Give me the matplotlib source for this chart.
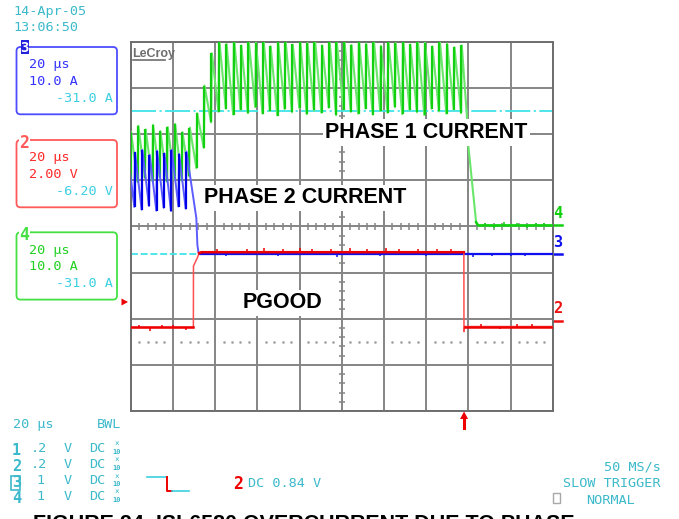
import numpy as np
import matplotlib
matplotlib.use("Agg")
import matplotlib.pyplot as plt
from matplotlib.patches import FancyBboxPatch, Rectangle, Polygon

plt.rcParams['lines.scale_dashes'] = False

W, H = 679, 519
MONO = 'DejaVu Sans Mono'
SANS = 'Liberation Sans'

# screen: 10 div x 20 us, 8 div vertical; traces stored in divisions
screen_us = 200
period_us = 3.484       # switching period, both phases
rise_us = 0.35          # inductor current up-slope time
trigger_us = 158.0

# CH4 - phase 1 current
ph1_first_peak_us = 0.14
ph1_peak = [2.05, 2.18, 2.10, 2.20, 2.06, 2.15, 2.22, 2.04, 2.14,
            2.45, 3.05, 3.75,
            4.05, 3.95, 4.10, 3.92, 4.05, 3.98, 4.10, 3.90, 4.02, 4.08,
            3.94, 4.05, 3.97, 4.10, 3.92, 4.04, 3.99, 4.08, 3.93, 4.05,
            3.96, 4.10, 3.91, 4.03, 3.97, 4.08, 3.94, 4.06, 3.98, 3.90,
            4.04, 3.96, 3.88, 3.92]
ph1_valley = [1.00, 0.96, 1.04, 0.98, 1.06, 0.97, 1.02, 0.99, 1.08,
              1.26, 1.70, 2.25,
              2.48, 2.55, 2.42, 2.52, 2.45, 2.58, 2.44, 2.50, 2.40, 2.54,
              2.47, 2.56, 2.43, 2.51, 2.46, 2.57, 2.41, 2.53, 2.48, 2.44,
              2.55, 2.42, 2.50, 2.46, 2.58, 2.43, 2.52, 2.47, 2.41, 2.55,
              2.49, 2.44, 2.53, 2.45]
ph1_tail_us = [159.3, 159.9, 163.7, 164.6, 200.0]
ph1_tail_div = [2.41, 1.80, 0.09, 0.02, 0.02]
ph1_glitch_us = [168, 172, 177, 183, 188, 192, 196]
ph1_glitch_div = [0.06, -0.05, 0.07, 0.05, -0.06, 0.06, 0.05]

# CH3 - phase 2 current
ph2_first_peak_us = -1.44
ph2_peak = [1.62, 1.60, 1.66, 1.55, 1.64, 1.58, 1.66, 1.57, 1.62]
ph2_valley = [0.40, 0.42, 0.36, 0.44, 0.34, 0.40, 0.33, 0.43, 0.38]
ph2_tail_us = [31.1, 31.6, 32.1, 33.0, 200.0]
ph2_tail_div = [0.18, -0.40, -0.56, -0.60, -0.60]
ph2_glitch_us = [45, 70, 98, 118, 140, 162, 171, 180, 187]
ph2_glitch_div = [-0.05, -0.04, -0.06, -0.05, -0.04, -0.06, -0.05, -0.04, -0.05]

# CH2 - PGOOD
pgood_us = [0.0, 29.7, 29.75, 31.6, 32.4, 33.5, 157.9, 157.95, 158.3, 200.0]
pgood_div = [-2.19, -2.19, -0.86, -0.68, -0.58, -0.56, -0.56, -2.28, -2.17, -2.17]
pgood_glitch_us = [4, 9, 15, 20, 26, 41, 55, 63, 72, 80, 86, 95, 104, 112,
                   121, 127, 136, 145, 152, 166, 175, 183, 190]
pgood_glitch_div = [0.06, -0.07, 0.05, 0.06, -0.05, 0.08, 0.07, 0.10, 0.06,
                    0.09, 0.07, 0.08, 0.10, 0.06, 0.09, 0.07, 0.08, 0.06,
                    0.07, 0.05, -0.05, 0.06, 0.05]

# reference / ground markers
ref_upper_div = 2.5
ref_lower_div = -0.6
dotted_div = -2.5
marker_levels = {'4': (0.03, '#10d010'), '3': (-0.60, '#1010ee'), '2': (-2.04, '#ee1010')}


def ripple(first_peak, peaks, valleys):
    t, v = [], []
    for k, (pk, vl) in enumerate(zip(peaks, valleys)):
        tp = first_peak + k * period_us
        t += [tp - rise_us, tp]
        v += [vl, pk]
    return t, v


fig = plt.figure(figsize=(W / 100, H / 100), dpi=100)
fig.patch.set_facecolor('white')

ax_l, ax_t, ax_r, ax_b = 130.7, 41.7, 552.7, 411.0
ax = fig.add_axes([ax_l / W, 1 - ax_b / H, (ax_r - ax_l) / W, (ax_b - ax_t) / H])
ax.set_xlim(0, screen_us)
ax.set_ylim(-4, 4)
ax.set_xticks(np.arange(0, screen_us + 1, 20))
ax.set_yticks(np.arange(-4, 5, 1))
ax.tick_params(length=0, labelbottom=False, labelleft=False)
ax.grid(True, color='#858585', lw=1.4)
ax.set_axisbelow(True)
for s in ax.spines.values():
    s.set_color('#6e6e6e')
    s.set_linewidth(1.4)

# centre cross graticule ticks
grey = '#858585'
minor_x = np.arange(0, screen_us + 0.1, 4)
minor_y = np.arange(-4, 4.01, 0.2)
ax.vlines(minor_x, -0.075, 0.075, color=grey, lw=1.1, zorder=1)
ax.hlines(minor_y, 100 - 1.5, 100 + 1.5, color=grey, lw=1.1, zorder=1)
dots = minor_x[(minor_x % 20) != 0]
ax.plot(dots, np.full(len(dots), dotted_div), ls='none', marker='s', ms=0.8,
        color='#a0a0a0', zorder=1)

# reference levels
ax.axhline(ref_upper_div, color='#40e4e8', lw=1.3, dashes=(18, 2.5, 1.5, 2.5), zorder=2)
ax.axhline(ref_lower_div, color='#40e4e8', lw=1.3, dashes=(5, 2), zorder=2)

# phase 1 current (green)
t1, v1 = ripple(ph1_first_peak_us, ph1_peak, ph1_valley)
ax.plot(t1 + ph1_tail_us, v1 + ph1_tail_div, color='#6ae66a', lw=1.5, zorder=3)
tp1 = ph1_first_peak_us + np.arange(len(ph1_peak)) * period_us - rise_us / 2
ax.vlines(tp1, ph1_valley, ph1_peak, color='#10d010', lw=1.6, zorder=3)
ax.plot(ph1_tail_us[2:], ph1_tail_div[2:], color='#10d010', lw=1.8, zorder=3)
ax.vlines(ph1_glitch_us, 0.02, 0.02 + np.array(ph1_glitch_div), color='#10d010', lw=1.1, zorder=3)

# phase 2 current (blue)
t2, v2 = ripple(ph2_first_peak_us, ph2_peak, ph2_valley)
ax.plot(t2 + ph2_tail_us, v2 + ph2_tail_div, color='#5c5cff', lw=1.4, zorder=4)
tp2 = ph2_first_peak_us + np.arange(len(ph2_peak)) * period_us - rise_us / 2
ax.vlines(tp2, ph2_valley, ph2_peak, color='#0000e6', lw=1.6, zorder=4)
ax.plot(ph2_tail_us[3:], ph2_tail_div[3:], color='#1010ee', lw=1.6, zorder=4)
ax.vlines(ph2_glitch_us, -0.60, -0.60 + np.array(ph2_glitch_div), color='#1010ee', lw=1.1, zorder=4)

# PGOOD (red)
ax.plot(pgood_us, pgood_div, color='#ff5050', lw=1.1, zorder=5)
ax.plot(pgood_us[:2], pgood_div[:2], color='#ee0000', lw=1.8, zorder=5)
ax.plot(pgood_us[4:7], pgood_div[4:7], color='#ee0000', lw=1.8, zorder=5)
ax.plot(pgood_us[8:], pgood_div[8:], color='#ee0000', lw=1.8, zorder=5)
base = np.interp(pgood_glitch_us, pgood_us, pgood_div)
ax.vlines(pgood_glitch_us, base, base + np.array(pgood_glitch_div), color='#ee0000', lw=1.1, zorder=5)

# channel offset markers right of the grid
ytr = ax.get_yaxis_transform()
for ch, (lvl, col) in marker_levels.items():
    ax.plot([1.0, 1.022], [lvl, lvl], color=col, lw=1.8, transform=ytr, clip_on=False)
    ax.text(1.002, lvl + 0.09, ch, color=col, fontsize=11, family=MONO, weight='bold',
            transform=ytr, va='bottom', ha='left')

# overlay in pixel coordinates for the scope annotations
ov = fig.add_axes([0, 0, 1, 1])
ov.set_xlim(0, W)
ov.set_ylim(H, 0)
ov.axis('off')
ov.patch.set_visible(False)

teal = '#3cb9ca'
cyan = '#3ccfe2'

def mono(x, y, s, color=teal, size=9.7, **kw):
    ov.text(x, y, s, color=color, fontsize=size, family=MONO, va='baseline', **kw)

mono(13, 15, '14-Apr-05')
mono(13, 30.7, '13:06:50')

# channel setup boxes
boxes = [('3', 47, '#4d4dff', '#3333ff', '10.0 A', '-31.0 A'),
         ('2', 140, '#ff5a5a', '#ff2a2a', '2.00 V', '-6.20 V'),
         ('4', 232.3, '#44e044', '#22d022', '10.0 A', '-31.0 A')]
for ch, top, edge, txt, scale, offset in boxes:
    ov.add_patch(FancyBboxPatch((16.5, top), 100.5, 67.3,
                                boxstyle='round,pad=0,rounding_size=4',
                                ec=edge, fc='none', lw=1.3))
    mono(29.3, top + 21.3, '20 µs', color=txt)
    mono(29.3, top + 38, scale, color=txt)
    mono(113, top + 54.7, offset, color=cyan, ha='right')
    if ch == '3':
        ov.add_patch(Rectangle((20.5, top - 7.5), 8, 14, fc='#2222dd', ec='none'))
        ov.text(24.5, top + 5, ch, color='white', fontsize=10, family=MONO,
                weight='bold', ha='center', va='baseline')
    else:
        ov.text(24.5, top + 7.5, ch, color=edge, fontsize=12, family=MONO,
                weight='bold', ha='center', va='baseline',
                bbox=dict(fc='white', ec='none', pad=0.2))

# trigger level arrow on the left edge
ov.add_patch(Polygon([(121.5, 298.5), (128, 302), (121.5, 305.5)], fc='#ee0000', ec='none'))

# trigger position arrow below the grid
trig_px = ax_l + trigger_us / screen_us * (ax_r - ax_l)
ov.add_patch(Polygon([(trig_px - 4, 419), (trig_px, 411.5), (trig_px + 4, 419)],
                     fc='#ee0000', ec='none'))
ov.plot([trig_px, trig_px], [417, 428], color='#ee0000', lw=2.2)

# logo
ov.text(132.5, 56.5, 'LeCroy', color='#6e6e6e', fontsize=9,
        family=['Liberation Sans Narrow', SANS], weight='bold', va='baseline')
ov.plot([132.5, 165], [59.5, 59.5], color='#6e6e6e', lw=1.2)

# trace labels
lbl = dict(ha='center', va='baseline', fontsize=15.5, family=SANS, weight='bold',
           color='black', bbox=dict(boxstyle='square,pad=0.12', fc='white', ec='none'))
ov.text(426.5, 138, 'PHASE 1 CURRENT', **lbl)
ov.text(305, 203.3, 'PHASE 2 CURRENT', **lbl)
ov.text(283, 308.3, 'PGOOD', **lbl)

# bottom status area
mono(12.7, 428.3, '20 µs')
mono(96.7, 428.3, 'BWL')
vdiv = [('1', '.2', 30.7), ('2', '.2', 30.7), ('3', '1', 36.7), ('4', '1', 36.7)]
row_base = [455, 470.7, 487.3, 503]
for (ch, vd, xv), yb in zip(vdiv, row_base):
    ov.text(12, yb, ch, color=teal, fontsize=11, family=MONO, weight='bold', va='baseline')
    mono(xv, yb - 3, vd)
    mono(63.3, yb - 3, 'V')
    mono(89, yb - 3, 'DC')
    ov.text(116.8, yb - 8, '×', color=teal, fontsize=5.5, family=MONO, ha='center', va='baseline')
    ov.text(116.8, yb - 1, '10', color=teal, fontsize=5, family=MONO, weight='bold',
            ha='center', va='baseline')
ov.add_patch(Rectangle((10.8, 475.5), 9.2, 14.5, fc='none', ec=teal, lw=1.2))

# trigger slope icon
ov.plot([146.7, 166.5], [476.7, 476.7], color=cyan, lw=1.2)
ov.plot([167.3, 167.3, 171.7], [476.7, 490.7, 490.7], color='#ee0000', lw=1.4)
ov.plot([171.7, 189.3], [490.7, 490.7], color=cyan, lw=1.2)
ov.text(233, 489.3, '2', color='#ee0000', fontsize=12, family=MONO, weight='bold', va='baseline')
mono(248, 487.3, 'DC 0.84 V')

mono(660.7, 470.7, '50 MS/s', ha='right')
mono(660.7, 487.3, 'SLOW TRIGGER', ha='right')
mono(586, 504, 'NORMAL')
ov.add_patch(Rectangle((553, 493), 7, 10, fc='none', ec='#a8a8a8', lw=1.0))

ov.text(33, 530, 'FIGURE 24. ISL6580 OVERCURRENT DUE TO PHASE', color='black',
        fontsize=15.5, family=SANS, weight='bold', va='baseline')

fig.savefig('out.png', dpi=100, facecolor='white')
